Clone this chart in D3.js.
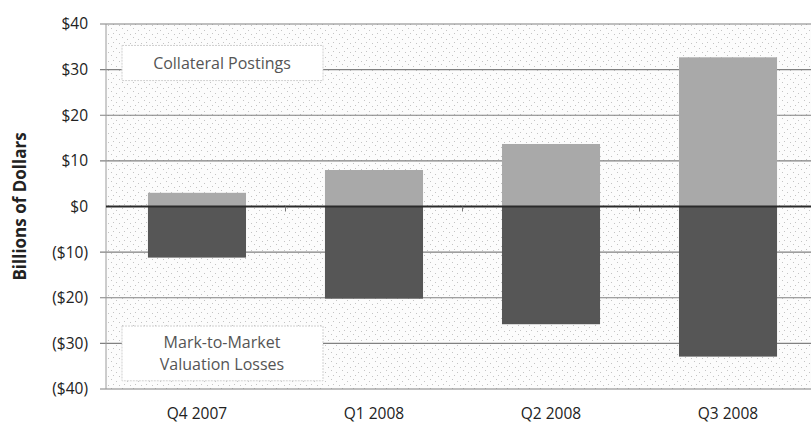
<!DOCTYPE html>
<html>
<head>
<meta charset="utf-8">
<script src="https://cdn.jsdelivr.net/npm/d3@7"></script>
<style>
  body { margin: 0; background: #fff; }
  text { font-family: "Open Sans", "Noto Sans", sans-serif; }
</style>
</head>
<body>
<svg id="chart" width="811" height="425"></svg>
<script>
// données
const quarters = ["Q4 2007", "Q1 2008", "Q2 2008", "Q3 2008"];
const collateral = [3, 8, 13.7, 32.7];
const mtmLosses = [-11.2, -20.2, -25.8, -32.9];
const yTicks = [40, 30, 20, 10, 0, -10, -20, -30, -40];

const svg = d3.select("#chart");
const plotLeft = 106, plotRight = 819, plotTop = 24, plotBottom = 389;

const y = d3.scaleLinear().domain([-40, 40]).range([plotBottom, plotTop]);
const x = d3.scaleBand().domain(quarters).range([plotLeft, plotRight]).paddingInner(0.446).paddingOuter(0.237);

const fmt = v => v < 0 ? `($${-v})` : `$${v}`;

// fond pointillé
const defs = svg.append("defs");
const pat = defs.append("pattern").attr("id", "stipple")
    .attr("width", 11).attr("height", 9).attr("patternUnits", "userSpaceOnUse");
pat.append("rect").attr("width", 11).attr("height", 9).attr("fill", "#fcfcfc");
[[1, 1], [6, 3], [3, 6], [9, 7]].forEach(p => {
    pat.append("rect").attr("x", p[0]).attr("y", p[1]).attr("width", 1).attr("height", 1).attr("fill", "#c4c4c4");
});

svg.append("rect")
    .attr("x", plotLeft).attr("y", plotTop)
    .attr("width", plotRight - plotLeft).attr("height", plotBottom - plotTop)
    .attr("fill", "url(#stipple)");

// grille
svg.append("g").selectAll("line")
    .data(yTicks.filter(d => d !== 0))
    .enter().append("line")
    .attr("x1", plotLeft - 6).attr("x2", plotRight)
    .attr("y1", d => y(d)).attr("y2", d => y(d))
    .attr("stroke", "#808080").attr("stroke-width", 1.2);

// axe gauche
svg.append("line")
    .attr("x1", plotLeft).attr("x2", plotLeft)
    .attr("y1", plotTop).attr("y2", plotBottom)
    .attr("stroke", "#9a9a9a").attr("stroke-width", 1);

// étiquettes Y
svg.append("g").selectAll("text")
    .data(yTicks)
    .enter().append("text")
    .attr("x", 88).attr("y", d => y(d))
    .attr("dy", "0.35em")
    .attr("text-anchor", "end")
    .attr("font-size", 15.5)
    .attr("fill", "#222")
    .text(fmt);

svg.append("text")
    .attr("transform", `translate(20,${y(0)}) rotate(-90)`)
    .attr("text-anchor", "middle")
    .attr("dy", "0.35em")
    .attr("font-size", 17)
    .attr("font-weight", "bold")
    .attr("fill", "#222")
    .text("Billions of Dollars");

// boîtes d'annotation
function labelBox(y0, y1, lines) {
    svg.append("rect")
        .attr("x", 122).attr("y", y(y0))
        .attr("width", 201).attr("height", y(y1) - y(y0))
        .attr("fill", "#fff")
        .attr("stroke", "#d0d0d0").attr("stroke-dasharray", "2,1");
    const cy = (y(y0) + y(y1)) / 2;
    lines.forEach((t, i) => {
        svg.append("text")
            .attr("x", 222).attr("y", cy + (i - (lines.length - 1) / 2) * 22)
            .attr("dy", "0.35em")
            .attr("text-anchor", "middle")
            .attr("font-size", 16)
            .attr("fill", "#555")
            .text(t);
    });
}
labelBox(35.3, 27.6, ["Collateral Postings"]);
labelBox(-26.2, -38.2, ["Mark-to-Market", "Valuation Losses"]);

// barres
svg.append("g").selectAll("rect")
    .data(quarters.map((q, i) => ({ q, v: collateral[i] })))
    .enter().append("rect")
    .attr("x", d => x(d.q)).attr("width", x.bandwidth())
    .attr("y", d => y(d.v)).attr("height", d => y(0) - y(d.v))
    .attr("fill", "#a9a9a9");

svg.append("g").selectAll("rect")
    .data(quarters.map((q, i) => ({ q, v: mtmLosses[i] })))
    .enter().append("rect")
    .attr("x", d => x(d.q)).attr("width", x.bandwidth())
    .attr("y", y(0)).attr("height", d => y(d.v) - y(0))
    .attr("fill", "#565656");

// ligne zéro
svg.append("line")
    .attr("x1", plotLeft).attr("x2", plotRight)
    .attr("y1", y(0)).attr("y2", y(0))
    .attr("stroke", "#2a2a2a").attr("stroke-width", 2);

// petites graduations entre catégories
svg.append("g").selectAll("line")
    .data(quarters.slice(1))
    .enter().append("line")
    .attr("x1", d => x(d) - x.step() * x.paddingInner() / 2)
    .attr("x2", d => x(d) - x.step() * x.paddingInner() / 2)
    .attr("y1", y(0)).attr("y2", y(0) + 5)
    .attr("stroke", "#777");

// étiquettes X
svg.append("g").selectAll("text")
    .data(quarters)
    .enter().append("text")
    .attr("x", d => x(d) + x.bandwidth() / 2)
    .attr("y", 414)
    .attr("dy", "0.35em")
    .attr("text-anchor", "middle")
    .attr("font-size", 15.5)
    .attr("fill", "#222")
    .text(d => d);
</script>
</body>
</html>
